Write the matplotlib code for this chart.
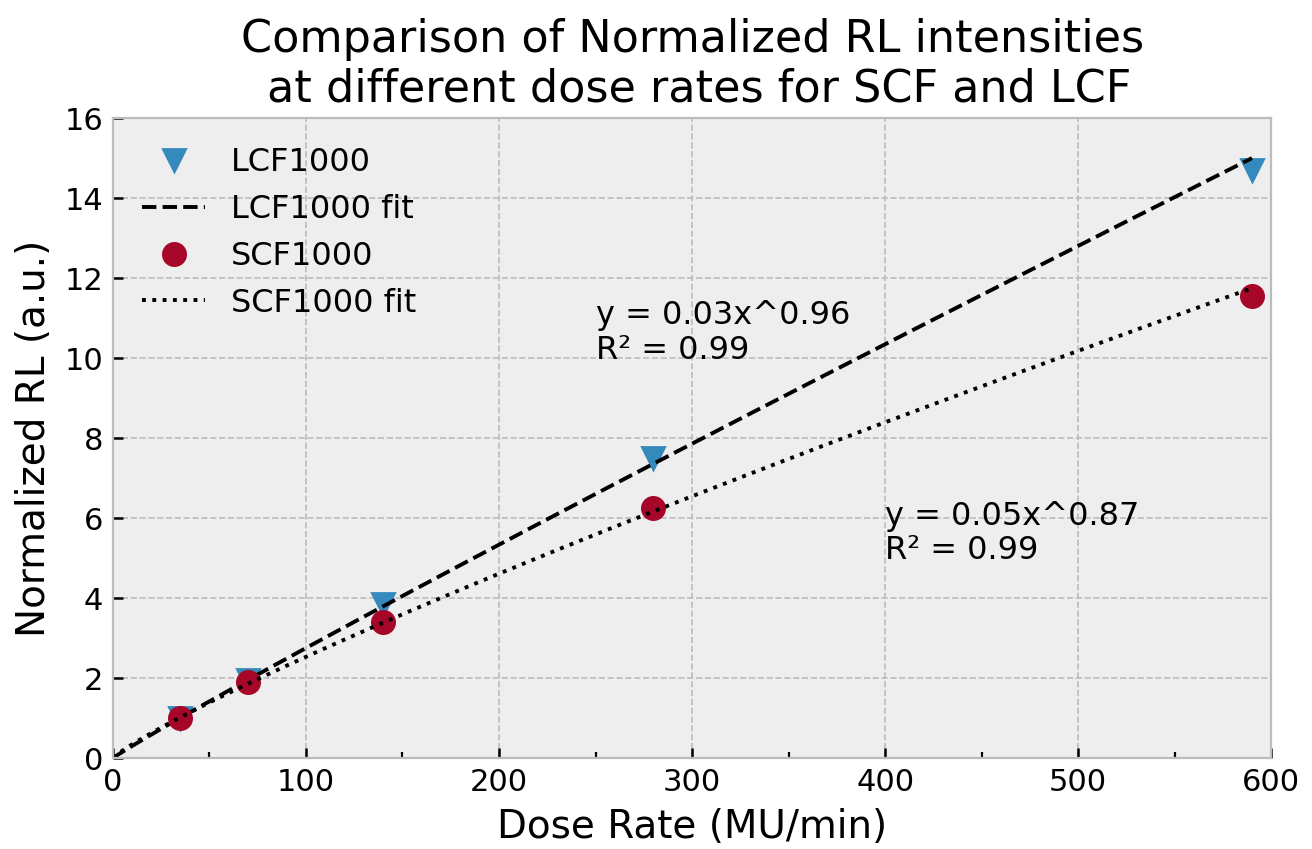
import matplotlib
matplotlib.use('Agg')
import matplotlib.pyplot as plt
import numpy as np
from matplotlib.ticker import MultipleLocator

# Data
dose_rate = [35, 70, 140, 280, 590]
lcf1000 = [1.0, 1.95, 3.85, 7.5, 14.7]
scf1000 = [1.0, 1.9, 3.4, 6.25, 11.55]

lcf_label = 'y = 0.03x^0.96\nR² = 0.99'
scf_label = 'y = 0.05x^0.87\nR² = 0.99'

plt.style.use('bmh')

# power law fits in log-log space
x = np.array(dose_rate, dtype=float)
b_l, la_l = np.polyfit(np.log(x), np.log(lcf1000), 1)
b_s, la_s = np.polyfit(np.log(x), np.log(scf1000), 1)
xfit = np.linspace(0, max(dose_rate), 200)
lcf_fit = np.exp(la_l) * xfit ** b_l
scf_fit = np.exp(la_s) * xfit ** b_s

fig = plt.figure(figsize=(6.56, 4.245), dpi=200)
ax = fig.add_axes([0.086, 0.107, 0.883, 0.754])

ax.plot(dose_rate, lcf1000, 'v', color='#348ABD', markersize=8, label='LCF1000')
ax.plot(xfit, lcf_fit, '--', color='black', linewidth=1.4, label='LCF1000 fit')
ax.plot(dose_rate, scf1000, 'o', color='#A60628', markersize=8, label='SCF1000')
ax.plot(xfit, scf_fit, ':', color='black', linewidth=1.4, label='SCF1000 fit')

ax.text(250, 9.8, lcf_label, fontsize=11.5, va='bottom', linespacing=1.15)
ax.text(400, 4.8, scf_label, fontsize=11.5, va='bottom', linespacing=1.15)

ax.set_xlim(0, 600)
ax.set_ylim(0, 16)
ax.xaxis.set_major_locator(MultipleLocator(100))
ax.xaxis.set_minor_locator(MultipleLocator(50))
ax.yaxis.set_major_locator(MultipleLocator(2))
ax.tick_params(which='both', direction='in', top=False, right=False, labelsize=11)
ax.tick_params(which='major', length=3.5, width=0.9, color='black')
ax.tick_params(which='minor', length=2, width=0.8, color='black')
ax.grid(True, linestyle='--', color='#bcbcbc', linewidth=0.6)
ax.grid(False, which='minor')

ax.set_title('Comparison of Normalized RL intensities\n at different dose rates for SCF and LCF', fontsize=16)
ax.set_xlabel('Dose Rate (MU/min)', fontsize=14)
ax.set_ylabel('Normalized RL (a.u.)', fontsize=14)
ax.legend(loc='upper left', frameon=False, fontsize=11.5)

fig.savefig('out.png', dpi=200)
